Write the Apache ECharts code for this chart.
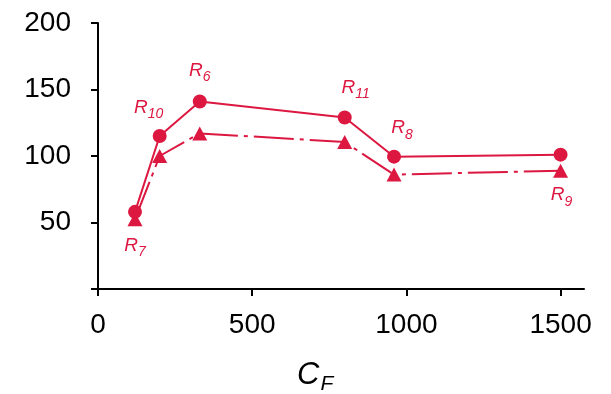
<!DOCTYPE html>
<html>
<head>
<meta charset="utf-8">
<script src="https://cdn.jsdelivr.net/npm/echarts@6.0.0/dist/echarts.min.js"></script>
<style>html,body{margin:0;padding:0;background:#fff}#c{width:611px;height:394px}</style>
</head>
<body>
<div id="c"></div>
<script>
const cfValues = [120, 200, 330, 800, 960, 1500];
const circleValues = [58, 115, 141, 129, 99.5, 101];
const triangleValues = [52.5, 100, 117, 110.5, 86, 89];
const pointNames = ['7', '10', '6', '11', '8', '9'];
const xTicks = [0, 500, 1000, 1500];
const yTicks = [50, 100, 150, 200];

const RED = '#dc1740';
const FONT = '"Liberation Sans", Arial, sans-serif';

const rich = {
  r: { fontSize: 19, fontStyle: 'italic', color: RED, fontFamily: FONT },
  s: { fontSize: 14, fontStyle: 'italic', color: RED, fontFamily: FONT, padding: [13, 0, 0, 0] }
};
function lab(name, pos, offset) {
  return { show: true, position: pos, offset: offset, distance: 4,
    formatter: '{r|R}{s|' + name + '}', rich: rich };
}
const labelCfg = {
  circle: { 1: lab(pointNames[1], 'top', [-11, -4]), 2: lab(pointNames[2], 'top', [0, -6]),
            3: lab(pointNames[3], 'top', [11, -5]), 4: lab(pointNames[4], 'top', [8, -4]) },
  tri: { 0: lab(pointNames[0], 'bottom', [0, 2]), 5: lab(pointNames[5], 'bottom', [1, 0]) }
};

const circleData = cfValues.map((x, i) => {
  const d = { value: [x, circleValues[i]] };
  if (labelCfg.circle[i]) d.label = labelCfg.circle[i];
  return d;
});
const triData = cfValues.map((x, i) => {
  const d = { value: [x, triangleValues[i]] };
  if (labelCfg.tri[i]) d.label = labelCfg.tri[i];
  return d;
});

const chart = echarts.init(document.getElementById('c'), null, { renderer: 'canvas' });
chart.setOption({
  animation: false,
  backgroundColor: '#fff',
  textStyle: { fontFamily: FONT },
  grid: { left: 98, right: 27, top: 23, bottom: 105, outerBoundsMode: 'none', containLabel: false },
  title: {
    text: '{c|C}{f|F}', left: 292, top: 350,
    textStyle: { fontWeight: 'normal', rich: {
      c: { fontSize: 31, fontStyle: 'italic', fontWeight: 'normal', color: '#000', fontFamily: FONT },
      f: { fontSize: 21, fontStyle: 'italic', fontWeight: 'normal', color: '#000', fontFamily: FONT, padding: [19, 0, 0, 1] }
    } }
  },
  xAxis: {
    type: 'value', min: 0, max: 1576,
    splitLine: { show: false },
    axisLine: { onZero: false, lineStyle: { color: '#000', width: 2 } },
    axisTick: { show: true, length: 7, inside: false, lineStyle: { color: '#000', width: 2 }, customValues: xTicks },
    axisLabel: { customValues: xTicks, formatter: v => String(v), fontSize: 28, color: '#000', margin: 22, fontFamily: FONT }
  },
  yAxis: {
    type: 'value', min: 0, max: 200, interval: 50,
    splitLine: { show: false },
    axisLine: { show: true, lineStyle: { color: '#000', width: 2 } },
    axisTick: { show: true, length: 7, lineStyle: { color: '#000', width: 2 }, customValues: [0].concat(yTicks) },
    axisLabel: { customValues: yTicks, formatter: v => String(v), fontSize: 28, color: '#000', margin: 27, fontFamily: FONT }
  },
  series: [
    {
      type: 'line', data: circleData, symbol: 'circle', symbolSize: 14,
      lineStyle: { color: RED, width: 2 }, itemStyle: { color: RED }, z: 3
    },
    {
      type: 'line', data: triData, symbol: 'triangle', symbolSize: [15, 14],
      lineStyle: { color: RED, width: 2, type: [40, 6, 4, 6] }, itemStyle: { color: RED }, z: 2
    }
  ]
});
</script>
</body>
</html>
